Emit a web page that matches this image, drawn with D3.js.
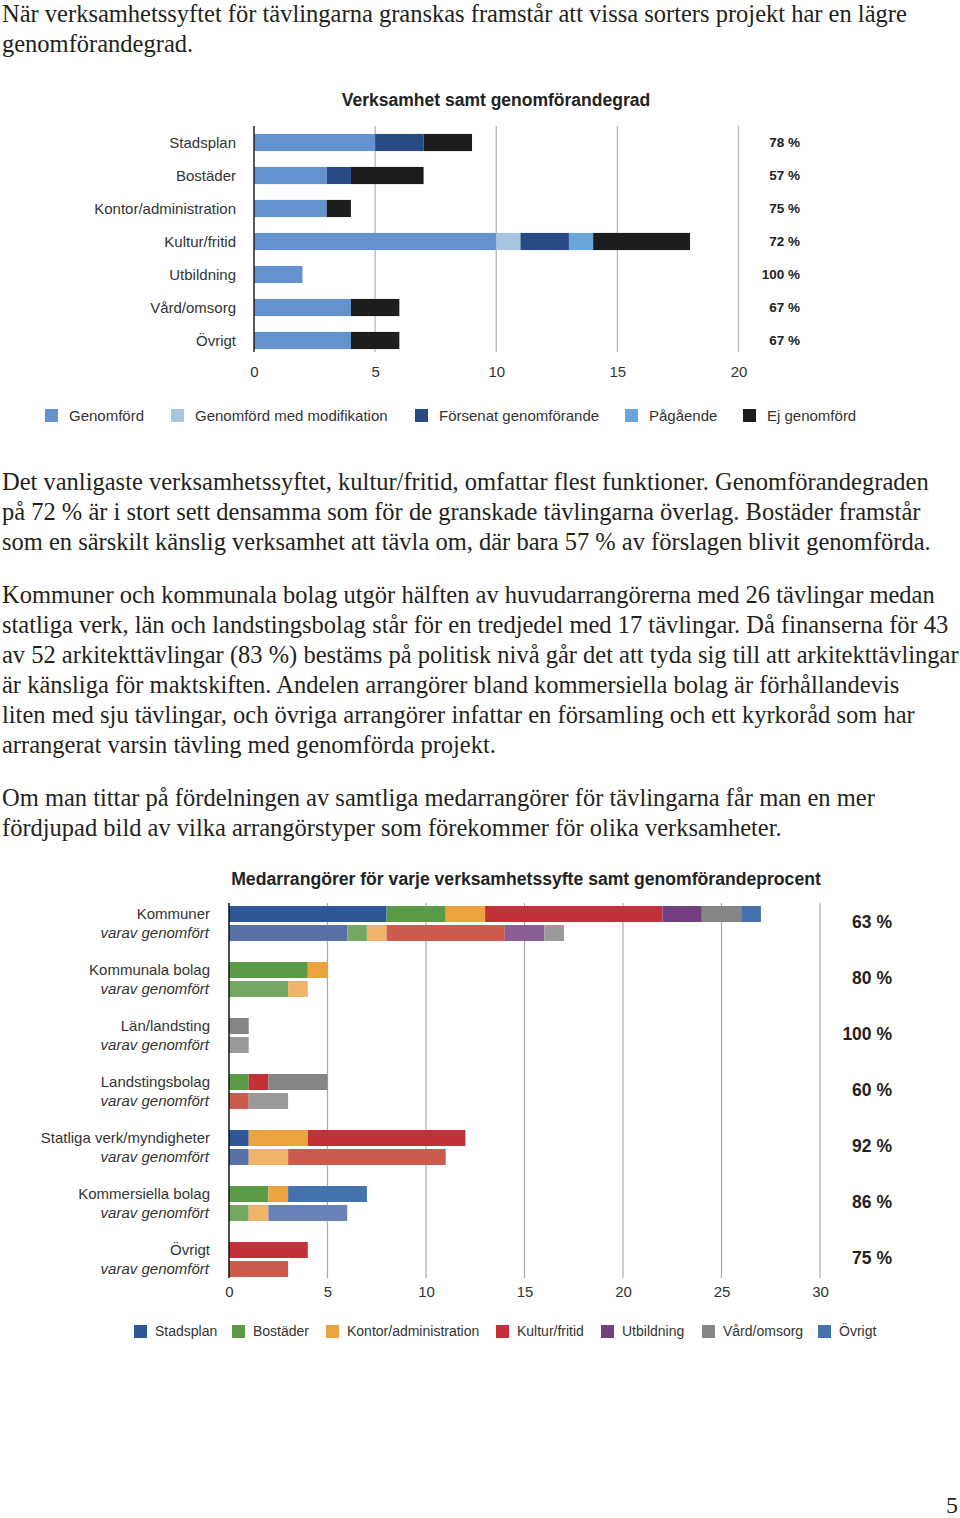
<!DOCTYPE html>
<html>
<head>
<meta charset="utf-8">
<script src="https://cdn.jsdelivr.net/npm/d3@7"></script>
<style>
  html, body { margin: 0; padding: 0; background: #fff; }
  svg { display: block; }
</style>
</head>
<body>
<svg id="page" width="960" height="1518"></svg>
<script>
// ---------- Body text ----------
const para1 = [
  "När verksamhetssyftet för tävlingarna granskas framstår att vissa sorters projekt har en lägre",
  "genomförandegrad."
];
const para2 = [
  "Det vanligaste verksamhetssyftet, kultur/fritid, omfattar flest funktioner. Genomförandegraden",
  "på 72 % är i stort sett densamma som för de granskade tävlingarna överlag. Bostäder framstår",
  "som en särskilt känslig verksamhet att tävla om, där bara 57 % av förslagen blivit genomförda."
];
const para3 = [
  "Kommuner och kommunala bolag utgör hälften av huvudarrangörerna med 26 tävlingar medan",
  "statliga verk, län och landstingsbolag står för en tredjedel med 17 tävlingar. Då finanserna för 43",
  "av 52 arkitekttävlingar (83 %) bestäms på politisk nivå går det att tyda sig till att arkitekttävlingar",
  "är känsliga för maktskiften. Andelen arrangörer bland kommersiella bolag är förhållandevis",
  "liten med sju tävlingar, och övriga arrangörer infattar en församling och ett kyrkoråd som har",
  "arrangerat varsin tävling med genomförda projekt."
];
const para4 = [
  "Om man tittar på fördelningen av samtliga medarrangörer för tävlingarna får man en mer",
  "fördjupad bild av vilka arrangörstyper som förekommer för olika verksamheter."
];
const pageNumber = "5";

// ---------- Chart 1 data ----------
const title1 = "Verksamhet samt genomförandegrad";
const cats1 = ["Stadsplan", "Bostäder", "Kontor/administration", "Kultur/fritid", "Utbildning", "Vård/omsorg", "Övrigt"];
const statusNames = ["Genomförd", "Genomförd med modifikation", "Försenat genomförande", "Pågående", "Ej genomförd"];
const genomford    = [5, 3, 3, 10, 2, 4, 4];
const modifikation = [0, 0, 0, 1, 0, 0, 0];
const forsenat     = [2, 1, 0, 2, 0, 0, 0];
const pagaende     = [0, 0, 0, 1, 0, 0, 0];
const ejGenomford  = [2, 3, 1, 4, 0, 2, 2];
const pct1 = ["78 %", "57 %", "75 %", "72 %", "100 %", "67 %", "67 %"];
const ticks1 = [0, 5, 10, 15, 20];
const statusColors = ["#6392cf", "#a7c5e3", "#274a84", "#6aa6dc", "#1d1d1f"];

// ---------- Chart 2 data ----------
const title2 = "Medarrangörer för varje verksamhetssyfte samt genomförandeprocent";
const arrangers = ["Kommuner", "Kommunala bolag", "Län/landsting", "Landstingsbolag", "Statliga verk/myndigheter", "Kommersiella bolag", "Övrigt"];
const subLabel = "varav genomfört";
const purposes = ["Stadsplan", "Bostäder", "Kontor/administration", "Kultur/fritid", "Utbildning", "Vård/omsorg", "Övrigt"];
// totals per arranger, per purpose
const totStadsplan   = [8, 0, 0, 0, 1, 0, 0];
const totBostader    = [3, 4, 0, 1, 0, 2, 0];
const totKontor      = [2, 1, 0, 0, 3, 1, 0];
const totKultur      = [9, 0, 0, 1, 8, 0, 4];
const totUtbildning  = [2, 0, 0, 0, 0, 0, 0];
const totVard        = [2, 0, 1, 3, 0, 0, 0];
const totOvrigt      = [1, 0, 0, 0, 0, 4, 0];
// of which implemented
const genStadsplan   = [6, 0, 0, 0, 1, 0, 0];
const genBostader    = [1, 3, 0, 0, 0, 1, 0];
const genKontor      = [1, 1, 0, 0, 2, 1, 0];
const genKultur      = [6, 0, 0, 1, 8, 0, 3];
const genUtbildning  = [2, 0, 0, 0, 0, 0, 0];
const genVard        = [1, 0, 1, 2, 0, 0, 0];
const genOvrigt      = [0, 0, 0, 0, 0, 4, 0];
const pct2 = ["63 %", "80 %", "100 %", "60 %", "92 %", "86 %", "75 %"];
const ticks2 = [0, 5, 10, 15, 20, 25, 30];
const purposeColors = ["#2d5796", "#5b9a47", "#eba33f", "#c33037", "#743f80", "#858585", "#4571ad"];
const purposeColorsLight = ["#5770a5", "#75a863", "#efb36a", "#cb5b4c", "#8b5e95", "#9a9a9a", "#6981b6"];

// ---------- Drawing ----------
const svg = d3.select("#page");
const serif = "'Liberation Serif', 'DejaVu Serif', serif";
const sans = "'Liberation Sans', Arial, Helvetica, sans-serif";
const textColor = "#231f20";

function paragraph(lines, x, y0, lh) {
  const g = svg.append("g");
  g.selectAll("text").data(lines).join("text")
    .attr("x", x)
    .attr("y", (d, i) => y0 + i * lh)
    .attr("font-family", serif)
    .attr("font-size", 24.5)
    .attr("fill", textColor)
    .text(d => d);
}
paragraph(para1, 2, 22, 30);
paragraph(para2, 2, 490, 30);
paragraph(para3, 2, 603, 30);
paragraph(para4, 2, 806, 30);

svg.append("text")
  .attr("x", 958).attr("y", 1513)
  .attr("text-anchor", "end")
  .attr("font-family", serif).attr("font-size", 24)
  .attr("fill", textColor)
  .text(pageNumber);

// ----- Chart 1 -----
(function () {
  const x = d3.scaleLinear().domain([0, 20]).range([254, 738.5]);
  const y = d3.scaleBand().domain(cats1).range([126, 357]).paddingInner(0.48).paddingOuter(0.24);

  const g = svg.append("g");
  g.append("text")
    .attr("x", 496).attr("y", 106)
    .attr("text-anchor", "middle")
    .attr("font-family", sans).attr("font-weight", "bold").attr("font-size", 17.5)
    .attr("fill", "#222")
    .text(title1);

  // gridlines
  g.append("g").selectAll("line").data(ticks1.filter(t => t > 0)).join("line")
    .attr("x1", d => x(d)).attr("x2", d => x(d))
    .attr("y1", 126).attr("y2", 352)
    .attr("stroke", "#b3b3b3").attr("stroke-width", 1.2);

  const rows = cats1.map((c, i) => ({
    cat: c,
    s0: genomford[i], s1: modifikation[i], s2: forsenat[i], s3: pagaende[i], s4: ejGenomford[i]
  }));
  const keys = ["s0", "s1", "s2", "s3", "s4"];
  const stacked = d3.stack().keys(keys)(rows);

  g.append("g").selectAll("g").data(stacked).join("g")
    .attr("fill", (d, i) => statusColors[i])
    .selectAll("rect").data(d => d).join("rect")
    .attr("x", d => x(d[0]))
    .attr("y", d => y(d.data.cat))
    .attr("width", d => x(d[1]) - x(d[0]))
    .attr("height", y.bandwidth());

  // axis line at 0
  g.append("line")
    .attr("x1", x(0)).attr("x2", x(0))
    .attr("y1", 126).attr("y2", 352)
    .attr("stroke", "#222").attr("stroke-width", 1.5);

  // category labels
  g.append("g").selectAll("text").data(cats1).join("text")
    .attr("x", 236)
    .attr("y", d => y(d) + y.bandwidth() / 2)
    .attr("dy", "0.35em")
    .attr("text-anchor", "end")
    .attr("font-family", sans).attr("font-size", 15)
    .attr("fill", "#333")
    .text(d => d);

  // percentages
  g.append("g").selectAll("text").data(pct1).join("text")
    .attr("x", 800)
    .attr("y", (d, i) => y(cats1[i]) + y.bandwidth() / 2)
    .attr("dy", "0.35em")
    .attr("text-anchor", "end")
    .attr("font-family", sans).attr("font-weight", "bold").attr("font-size", 13.5)
    .attr("fill", "#222")
    .text(d => d);

  // x axis ticks
  const ax = g.append("g").attr("transform", "translate(0,366)")
    .call(d3.axisBottom(x).tickValues(ticks1).tickSize(0).tickPadding(0).tickFormat(d3.format("d")));
  ax.select(".domain").remove();
  ax.selectAll("text").attr("font-family", sans).attr("font-size", 15).attr("fill", "#333");

  // legend
  const legX = [45, 171, 415, 625, 743];
  const leg = g.append("g").selectAll("g").data(statusNames).join("g")
    .attr("transform", (d, i) => `translate(${legX[i]},409)`);
  leg.append("rect").attr("width", 13).attr("height", 13).attr("fill", (d, i) => statusColors[i]);
  leg.append("text").attr("x", 24).attr("y", 6.5).attr("dy", "0.35em")
    .attr("font-family", sans).attr("font-size", 15).attr("fill", "#333")
    .text(d => d);
})();

// ----- Chart 2 -----
(function () {
  const x = d3.scaleLinear().domain([0, 30]).range([229, 820]);
  const y = d3.scaleBand().domain(arrangers).range([895.5, 1287.5]);
  const barH = 16;

  const g = svg.append("g");
  g.append("text")
    .attr("x", 526).attr("y", 885)
    .attr("text-anchor", "middle")
    .attr("font-family", sans).attr("font-weight", "bold").attr("font-size", 17.6)
    .attr("fill", "#222")
    .text(title2);

  g.append("g").selectAll("line").data(ticks2.filter(t => t > 0)).join("line")
    .attr("x1", d => x(d)).attr("x2", d => x(d))
    .attr("y1", 903).attr("y2", 1278)
    .attr("stroke", "#aaaaaa").attr("stroke-width", 1.2);

  const totCols = [totStadsplan, totBostader, totKontor, totKultur, totUtbildning, totVard, totOvrigt];
  const genCols = [genStadsplan, genBostader, genKontor, genKultur, genUtbildning, genVard, genOvrigt];
  const keys = purposes.map((p, j) => "p" + j);
  const mkRows = cols => arrangers.map((a, i) => {
    const r = { arr: a };
    cols.forEach((c, j) => r["p" + j] = c[i]);
    return r;
  });
  const stTot = d3.stack().keys(keys)(mkRows(totCols));
  const stGen = d3.stack().keys(keys)(mkRows(genCols));

  const center = a => y(a) + y.bandwidth() / 2;

  function drawStack(st, colors, offset) {
    g.append("g").selectAll("g").data(st).join("g")
      .attr("fill", (d, i) => colors[i])
      .selectAll("rect").data(d => d.filter(v => v[1] > v[0])).join("rect")
      .attr("x", d => x(d[0]))
      .attr("y", d => center(d.data.arr) + offset)
      .attr("width", d => x(d[1]) - x(d[0]))
      .attr("height", barH);
  }
  drawStack(stTot, purposeColors, -17.5);
  drawStack(stGen, purposeColorsLight, 1.5);

  g.append("line")
    .attr("x1", x(0)).attr("x2", x(0))
    .attr("y1", 903).attr("y2", 1278)
    .attr("stroke", "#111").attr("stroke-width", 1.5);

  const lab = g.append("g").selectAll("g").data(arrangers).join("g");
  lab.append("text")
    .attr("x", 210).attr("y", d => center(d) - 9.5).attr("dy", "0.35em")
    .attr("text-anchor", "end")
    .attr("font-family", sans).attr("font-size", 15).attr("fill", "#333")
    .text(d => d);
  lab.append("text")
    .attr("x", 209).attr("y", d => center(d) + 9.5).attr("dy", "0.35em")
    .attr("text-anchor", "end")
    .attr("font-family", sans).attr("font-size", 15).attr("font-style", "italic").attr("fill", "#333")
    .text(subLabel);

  g.append("g").selectAll("text").data(pct2).join("text")
    .attr("x", 892)
    .attr("y", (d, i) => center(arrangers[i]) - 2)
    .attr("dy", "0.35em")
    .attr("text-anchor", "end")
    .attr("font-family", sans).attr("font-weight", "bold").attr("font-size", 17.5)
    .attr("fill", "#222")
    .text(d => d);

  const ax = g.append("g").attr("transform", "translate(0,1286)")
    .call(d3.axisBottom(x).tickValues(ticks2).tickSize(0).tickPadding(0).tickFormat(d3.format("d")));
  ax.select(".domain").remove();
  ax.selectAll("text").attr("font-family", sans).attr("font-size", 15).attr("fill", "#333");

  const legX = [134, 232, 326, 496, 601, 702, 818];
  const leg = g.append("g").selectAll("g").data(purposes).join("g")
    .attr("transform", (d, i) => `translate(${legX[i]},1325)`);
  leg.append("rect").attr("width", 13).attr("height", 13).attr("fill", (d, i) => purposeColors[i]);
  leg.append("text").attr("x", 21).attr("y", 6.5).attr("dy", "0.35em")
    .attr("font-family", sans).attr("font-size", 14).attr("fill", "#333")
    .text(d => d);
})();
</script>
</body>
</html>
